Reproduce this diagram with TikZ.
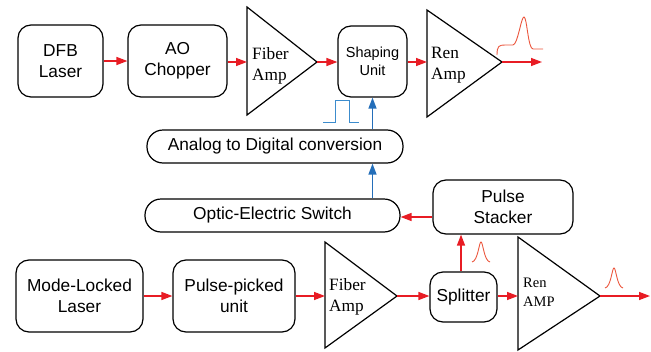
\documentclass[tikz,border=0pt]{standalone}
\usepackage{fontspec}
\setmainfont{Liberation Sans}
\newfontfamily\ampfont{Liberation Serif}
\usetikzlibrary{arrows.meta}
\definecolor{sigred}{RGB}{232,28,36}
\definecolor{sigblue}{RGB}{36,110,185}
\definecolor{pulsered}{RGB}{235,85,60}
\definecolor{pulseblue}{RGB}{60,140,205}

\begin{document}
\begin{tikzpicture}[x=1pt,y=-1pt,
	box/.style={draw,rounded corners=13pt,line width=1.2pt,align=center,inner sep=0pt,
		font=\fontsize{17.3}{21}\selectfont},
	pill/.style={box,rounded corners=16pt},
	amptext/.style={anchor=west,align=left,inner sep=0pt,font=\ampfont\fontsize{17.3}{21}\selectfont},
	amp/.style={line width=1.2pt,line join=miter},
	ray/.style={sigred,line width=1.4pt,-{Triangle[length=11pt,width=8pt]}},
	elec/.style={sigblue,line width=1.4pt,-{Triangle[length=11pt,width=8pt]}},
	pulse/.style={pulsered,line width=0.9pt}]
				\useasboundingbox (0,0) rectangle (651,351);
				% top row
				\node[box,minimum width=85pt,minimum height=72pt] (dfb) at (60.5,61) {DFB\\Laser};
				\node[box,minimum width=99pt,minimum height=72pt] (aoc) at (177.5,61) {AO\\Chopper};
				\draw[amp] (247,7) -- (317,62) -- (247,115) -- cycle;
				\coordinate (fa1in) at (247,62);
				\coordinate (fa1out) at (317,62);
				\node[amptext] (fa1) at (252,65.5) {Fiber\\Amp};
				\node[box,minimum width=69pt,minimum height=71pt,font=\fontsize{14.5}{18}\selectfont] (shape) at (372.5,61.5) {Shaping\\Unit};
				\draw[amp] (427,10) -- (502,62) -- (427,117) -- cycle;
				\coordinate (ra1in) at (427,62);
				\coordinate (ra1out) at (502,62);
				\coordinate (ra1end) at (542,62);
				\node[amptext] (ra1) at (431,65.2) {Ren\\Amp};
				% electronics
				\node[pill,minimum width=256pt,minimum height=33pt] (adc) at (275,146.5) {Analog to Digital conversion};
				\node[pill,minimum width=255pt,minimum height=33pt] (oes) at (272.5,215.5) {Optic-Electric Switch};
				\node[box,minimum width=140pt,minimum height=54pt] (stack) at (503,207) {Pulse\\Stacker};
				% bottom row
				\node[box,minimum width=127pt,minimum height=72pt] (mll) at (79.5,296) {Mode-Locked\\Laser};
				\node[box,minimum width=122pt,minimum height=72pt] (pick) at (234,296) {Pulse-picked\\unit};
				\draw[amp] (325,242) -- (397,296) -- (325,348) -- cycle;
				\coordinate (fa2in) at (325,296);
				\coordinate (fa2out) at (397,296);
				\node[amptext] (fa2) at (329,297) {Fiber\\Amp};
				\node[box,minimum width=67pt,minimum height=50pt] (split) at (463.5,297) {Splitter};
				\draw[amp] (518,237) -- (600,296) -- (518,350) -- cycle;
				\coordinate (ra2in) at (518,296);
				\coordinate (ra2out) at (600,296);
				\coordinate (ra2end) at (650,296);
				\node[amptext,font=\ampfont\fontsize{14.5}{19}\selectfont] (ra2) at (523,292.7) {Ren\\AMP};
				% optical paths
				\draw[ray] (dfb.east) -- (aoc.west);
				\draw[ray] (aoc.east |- fa1in) -- (fa1in);
				\draw[ray] (fa1out) -- (shape.west |- fa1out);
				\draw[ray] (shape.east |- ra1in) -- (ra1in);
				\draw[ray] (ra1out) -- (ra1end);
				\draw[ray] (mll.east) -- (pick.west);
				\draw[ray] (pick.east |- fa2in) -- (fa2in);
				\draw[ray] (fa2out) -- (split.west |- fa2out);
				\draw[ray] (split.east |- ra2in) -- (ra2in);
				\draw[ray] (ra2out) -- (ra2end);
				\draw[ray] ([xshift=-2.5pt]split.north) -- ([xshift=-2.5pt]split.north |- stack.south);
				\draw[ray] (stack.west |- 0,217) -- (oes.east |- 0,217);
				% electric paths
				\draw[elec] (oes.north -| shape.south) -- (adc.south -| shape.south);
				\draw[elec] (adc.north -| shape.south) -- (shape.south);
				% pulse shapes
				\draw[pulse] (497,55) .. controls (497,46) and (499,45) .. (505,45) -- (513,45)
					.. controls (518,44) and (521,17) .. (524,17) .. controls (527,17) and (528,49) .. (533,49) -- (543,49);
				\draw[pulse] (472,262) .. controls (478,261) and (479,242) .. (481,242) .. controls (483,242) and (484,261) .. (490,262);
				\draw[pulse] (605,288) .. controls (611,287) and (612,268) .. (614,268) .. controls (616,268) and (617,287) .. (623,288);
				\draw[pulseblue,line width=1pt] (323,122) -- (335,122) -- (335,100) -- (349,100) -- (349,122) -- (359,122);
			\end{tikzpicture}
\end{document}
